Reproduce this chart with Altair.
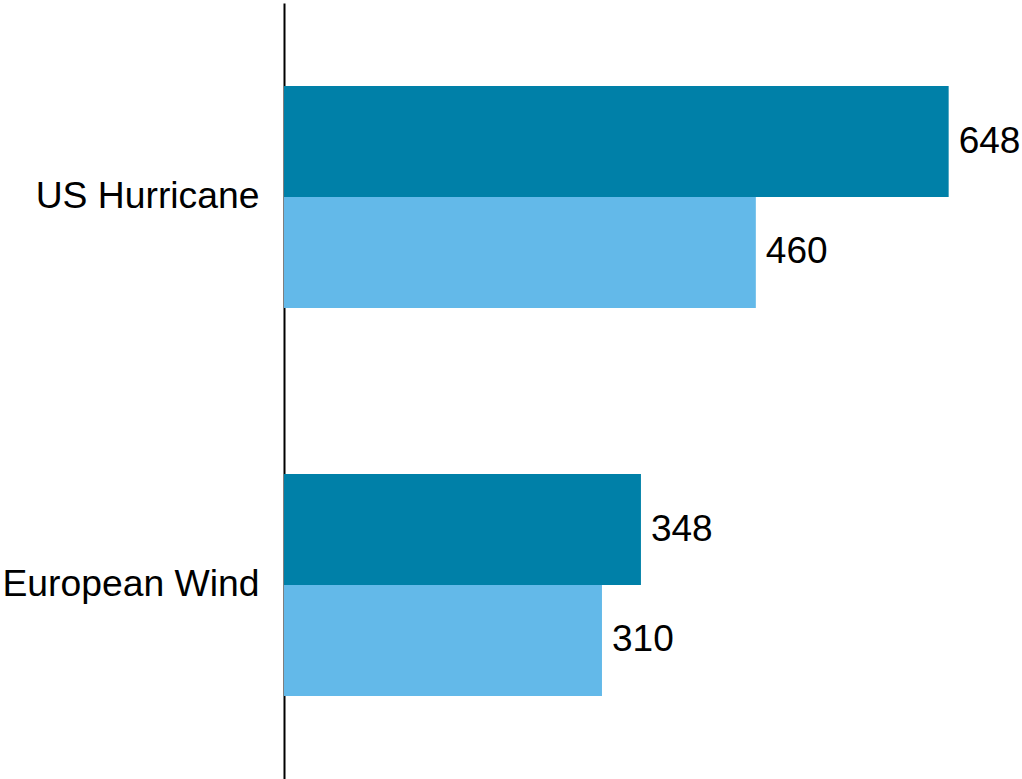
import altair as alt
import pandas as pd

# Loss estimates by peril, two series per peril
perils = ["US Hurricane", "US Hurricane", "European Wind", "European Wind"]
series = ["A", "B", "A", "B"]
values = [648, 460, 348, 310]
peril_order = ["US Hurricane", "European Wind"]
series_colors = ["#0080A8", "#63B9E9"]

df = pd.DataFrame({"peril": perils, "series": series, "value": values})

x_scale = alt.Scale(domain=[0, 700], nice=False, zero=True)
y_enc = alt.Y(
    "peril:N",
    sort=peril_order,
    scale=alt.Scale(paddingInner=0.428, paddingOuter=0.214),
    axis=alt.Axis(
        title=None,
        ticks=False,
        domain=True,
        domainColor="#000000",
        domainWidth=2,
        labelFontSize=37.3,
        labelFont="Liberation Sans",
        labelColor="#000000",
        labelPadding=25,
        labelLimit=400,
        grid=False,
    ),
)

base = alt.Chart(df).encode(
    y=y_enc,
    yOffset=alt.YOffset("series:N", sort=["A", "B"]),
)

bars = base.mark_bar(size=111).encode(
    x=alt.X("value:Q", scale=x_scale, axis=None),
    color=alt.Color(
        "series:N",
        scale=alt.Scale(domain=["A", "B"], range=series_colors),
        legend=None,
    ),
)

labels = base.mark_text(
    align="left",
    baseline="middle",
    dx=10,
    fontSize=37,
    font="Liberation Sans",
    color="#000000",
).encode(
    x=alt.X("value:Q", scale=x_scale, axis=None),
    text=alt.Text("value:Q"),
)

chart = (
    alt.layer(bars, labels)
    .properties(
        width=718,
        height=776,
        autosize=alt.AutoSizeParams(type="none"),
        padding={"left": 284, "top": 3, "right": 20, "bottom": 0},
        view=alt.ViewBackground(stroke=None, strokeWidth=0),
    )
    .configure_view(strokeWidth=0, stroke=None)
    .configure(background="#ffffff")
)

chart.save("out.html", embed_options={"renderer": "svg", "actions": False})
